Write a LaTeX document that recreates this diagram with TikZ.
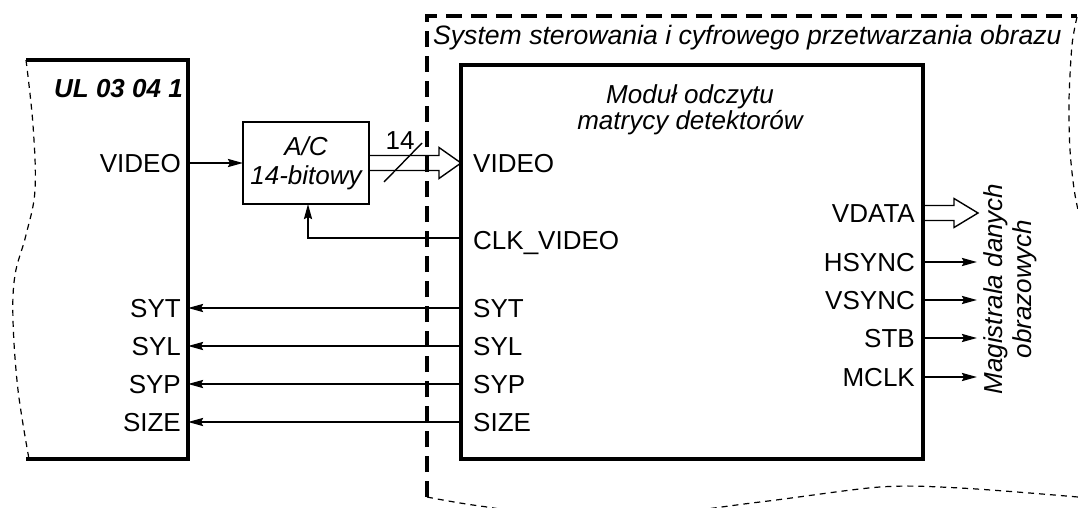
\documentclass[tikz,border=0pt]{standalone}
\usepackage{fontspec}
\setmainfont{Liberation Sans}
\usetikzlibrary{arrows.meta}
\begin{document}
\begin{tikzpicture}[x=1pt,y=-1pt,
  lbl/.style={font=\fontsize{26}{30}\selectfont, inner sep=0pt, text height=18.7pt, text depth=0pt},
  ilbl/.style={font=\fontsize{26}{29}\selectfont\itshape, inner sep=0pt},
  sig/.style={line width=2.2pt, -{Stealth[length=15pt,width=8pt,inset=2pt]}},
  boxline/.style={line width=3.6pt},
  wavy/.style={line width=1.2pt, dash pattern=on 6pt off 5pt},
  outer/.style={line width=3.8pt, dash pattern=on 16pt off 9pt},
  hollow/.style={line width=1.4pt, line join=miter},
]
\clip (0,0) rectangle (1078,508);

% outer system boundary
\draw[outer] (427,497) -- (427,16) -- (1077,16);
\draw[wavy] plot[smooth] coordinates {(1077,17) (1072,45) (1069,100) (1070,150) (1075,195) (1085,240)};
\draw[wavy] plot[smooth] coordinates {(427,497) (480,506) (600,520) (760,502) (880,487) (960,488) (1078,497) (1100,500)};
\node[ilbl, font=\fontsize{26.6}{29}\selectfont\itshape, anchor=base west] (title) at (433,45) {System sterowania i cyfrowego przetwarzania obrazu};

% UL box
\node[minimum width=162pt, minimum height=399pt, anchor=north west, inner sep=0pt, outer sep=0pt] (ul) at (26,60) {};
\draw[boxline] (ul.north west) -- (ul.north east) -- (ul.south east) -- (ul.south west);
\draw[wavy] plot[smooth, tension=0.6] coordinates {(26,60) (33,125) (35,190) (26,235) (15,275) (13,320) (18,390) (29,459)};
\node[lbl, font=\fontsize{26}{30}\selectfont\bfseries\itshape, anchor=east] (ultitle) at (183,88) {UL 03 04 1};
\node[lbl, anchor=east] (uVID) at (181,163) {VIDEO};
\node[lbl, anchor=east] (uSYT) at (181,308) {SYT};
\node[lbl, anchor=east] (uSYL) at (181,346) {SYL};
\node[lbl, anchor=east] (uSYP) at (181,384) {SYP};
\node[lbl, anchor=east] (uSIZE) at (181,422) {SIZE};

% A/C converter
\node[draw, line width=2.2pt, minimum width=126pt, minimum height=82pt, inner sep=0pt, outer sep=0pt,
      anchor=north west, align=center, font=\fontsize{26}{29}\selectfont\itshape] (ac) at (243,122) {A/C\\14-bitowy};

% module
\node[draw, line width=3.4pt, minimum width=462pt, minimum height=394pt, inner sep=0pt, outer sep=0pt,
      anchor=north west] (mod) at (461,65) {};
\node[ilbl, anchor=base] (mt1) at (690,104) {Moduł odczytu};
\node[ilbl, anchor=base] (mt2) at (690,130) {matrycy detektorów};
\node[lbl, anchor=west] (mVID) at (473,163) {VIDEO};
\node[lbl, anchor=west] (mCLK) at (473,240) {CLK\_VIDEO};
\node[lbl, anchor=west] (mSYT) at (473,308) {SYT};
\node[lbl, anchor=west] (mSYL) at (473,346) {SYL};
\node[lbl, anchor=west] (mSYP) at (473,384) {SYP};
\node[lbl, anchor=west] (mSIZE) at (473,422) {SIZE};
\node[lbl, anchor=east] (mVD) at (915,213) {VDATA};
\node[lbl, anchor=east] (mHS) at (915,262) {HSYNC};
\node[lbl, anchor=east] (mVS) at (915,300) {VSYNC};
\node[lbl, anchor=east] (mSTB) at (915,338) {STB};
\node[lbl, anchor=east] (mMCLK) at (915,377) {MCLK};

% bus label
\node[ilbl, rotate=90, align=center] (bus) at (1010,289) {Magistrala danych\\obrazowych};
\coordinate (busx) at (977,0);

% connectors
\draw[sig] (uVID -| ul.east) -- (ac.west);
\coordinate (clk) at (308,238);
\draw[sig] (clk -| mod.west) -- (clk) -- (ac.south -| clk);
\draw[sig] (mSYT -| mod.west) -- (mSYT -| ul.east);
\draw[sig] (mSYL -| mod.west) -- (mSYL -| ul.east);
\draw[sig] (mSYP -| mod.west) -- (mSYP -| ul.east);
\draw[sig] (mSIZE -| mod.west) -- (mSIZE -| ul.east);
\draw[sig] (mHS -| mod.east) -- (mHS -| busx);
\draw[sig] (mVS -| mod.east) -- (mVS -| busx);
\draw[sig] (mSTB -| mod.east) -- (mSTB -| busx);
\draw[sig] (mMCLK -| mod.east) -- (mMCLK -| busx);

% 14-bit bus into module
\path (ac.east -| mod.west) coordinate (vt);
\draw[hollow] ([yshift=7.5pt]ac.east) -- ([xshift=-22pt,yshift=7.5pt]vt) -- ([xshift=-22pt,yshift=15.5pt]vt) -- (vt)
  -- ([xshift=-22pt,yshift=-15.5pt]vt) -- ([xshift=-22pt,yshift=-7.5pt]vt) -- ([yshift=-7.5pt]ac.east);
\node[lbl] (n14) at (400,140) {14};
\coordinate (sl1) at (384,182);
\coordinate (sl2) at (422,143);
\draw[hollow] (sl1) -- (sl2);

% VDATA bus out
\path (mVD -| mod.east) coordinate (vd);
\draw[hollow] ([yshift=7.5pt]vd) -- ([xshift=31pt,yshift=7.5pt]vd) -- ([xshift=31pt,yshift=14.5pt]vd) -- ([xshift=55pt]vd)
  -- ([xshift=31pt,yshift=-14.5pt]vd) -- ([xshift=31pt,yshift=-7.5pt]vd) -- ([yshift=-7.5pt]vd);
\end{tikzpicture}
\end{document}
